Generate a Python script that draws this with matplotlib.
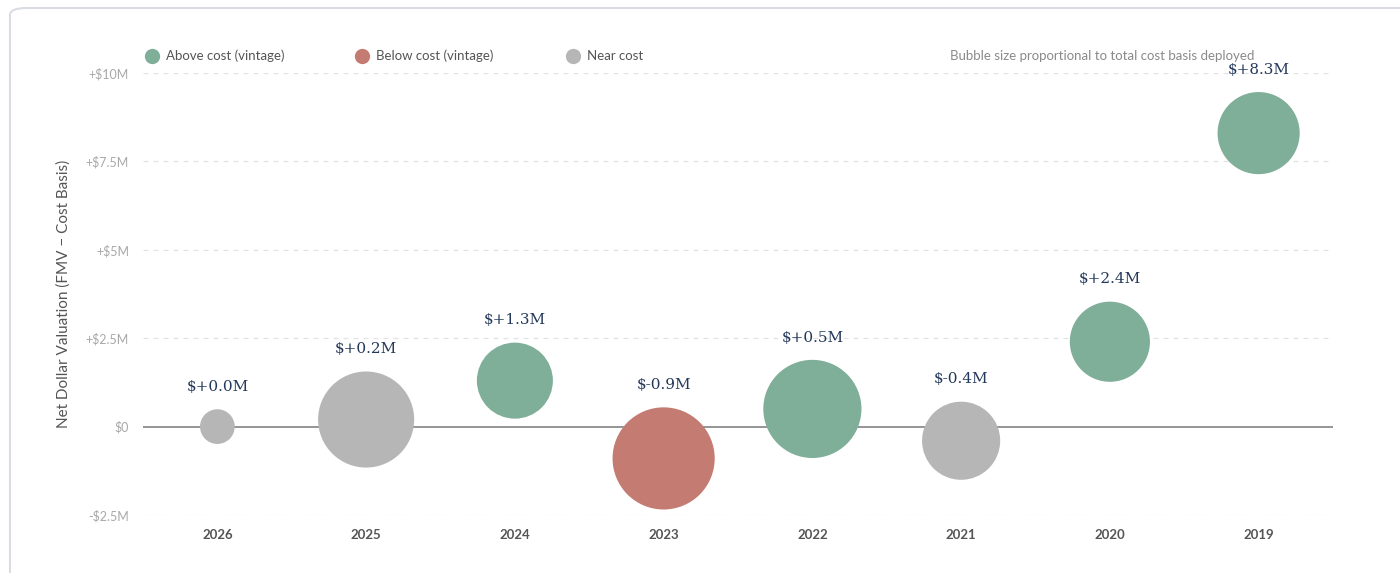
import numpy as np
import matplotlib.pyplot as plt
from matplotlib.patches import FancyBboxPatch
from matplotlib.lines import Line2D

# vintage years, net valuation ($M) and cost basis deployed ($M)
vintages = ['2026', '2025', '2024', '2023', '2022', '2021', '2020', '2019']
net_value = [0.0, 0.2, 1.3, -0.9, 0.5, -0.4, 2.4, 8.3]
cost_basis = [1.5, 11.5, 7.2, 13.0, 12.0, 7.6, 8.0, 8.4]
status = ['near', 'near', 'above', 'below', 'above', 'near', 'above', 'above']

yticks = [-2.5, 0, 2.5, 5, 7.5, 10]
ytick_labels = ['-$2.5M', '$0', '+$2.5M', '+$5M', '+$7.5M', '+$10M']

colors = {'above': '#7fae99', 'below': '#c47b71', 'near': '#b6b6b6'}
legend_names = [('above', 'Above cost (vintage)'),
                ('below', 'Below cost (vintage)'),
                ('near', 'Near cost')]

sans = 'Lato'
label_color = '#24395a'

fig = plt.figure(figsize=(14, 5.73), dpi=100)
fig.patch.set_facecolor('white')

# card outline
card = FancyBboxPatch((10 / 1400, -0.05), 1.05, 1 - 8 / 573 + 0.05,
                      boxstyle='round,pad=0,rounding_size=0.012',
                      transform=fig.transFigure, facecolor='white',
                      edgecolor='#d9dce2', linewidth=1.5, zorder=-5)
fig.add_artist(card)

ax = fig.add_axes([143 / 1400, 1 - 515 / 573, 1190 / 1400, 442 / 573])
ax.set_facecolor('none')
ax.set_zorder(2)

x = np.arange(len(vintages))
diam_pt = 20.4 * np.sqrt(cost_basis)  # marker diameter in points
ax.scatter(x, net_value, s=diam_pt ** 2,
           c=[colors[s] for s in status], edgecolors='none', zorder=3,
           clip_on=False)

for xi, v, d in zip(x, net_value, diam_pt):
    ax.annotate(f'${v:+.1f}M', (xi, v), xytext=(0, d / 2 + 16),
                textcoords='offset points', ha='center', va='center',
                fontsize=11, family='DejaVu Serif', color=label_color,
                zorder=4)

ax.set_xlim(-0.5, len(vintages) - 0.5)
ax.set_ylim(-2.5, 10)
ax.set_xticks(x)
ax.set_xticklabels(vintages, fontsize=9.5, fontweight='bold', color='#555555',
                   family=sans)
ax.set_yticks(yticks)
ax.set_yticklabels(ytick_labels, fontsize=9, color='#a8a8a8', family=sans)
ax.tick_params(length=0, pad=10)
ax.tick_params(axis='x', pad=10)

for yv in yticks:
    if yv == 0:
        ax.axhline(0, color='#8c8c8c', linewidth=1.3, zorder=1)
    else:
        ax.axhline(yv, color='#e3e3e3', linewidth=0.9, linestyle=(0, (4, 4)),
                   zorder=1)

for sp in ax.spines.values():
    sp.set_visible(False)

ax.set_ylabel('Net Dollar Valuation (FMV \u2212 Cost Basis)', fontsize=11,
              color='#555555', family=sans, labelpad=11)

# legend row
for (key, name), lx in zip(legend_names, [152, 362, 573]):
    fig.add_artist(Line2D([lx / 1400], [1 - 56 / 573], marker='o',
                          markersize=11, markerfacecolor=colors[key],
                          markeredgecolor='none', linestyle='none',
                          transform=fig.transFigure))
    fig.text((lx + 14) / 1400, 1 - 56 / 573, name, fontsize=9.5,
             color='#555555', family=sans, va='center', ha='left')

fig.text(950 / 1400, 1 - 56 / 573,
         'Bubble size proportional to total cost basis deployed',
         fontsize=9.5, color='#8a8a8a', family=sans, va='center', ha='left')

fig.savefig('out.png', dpi=100)
